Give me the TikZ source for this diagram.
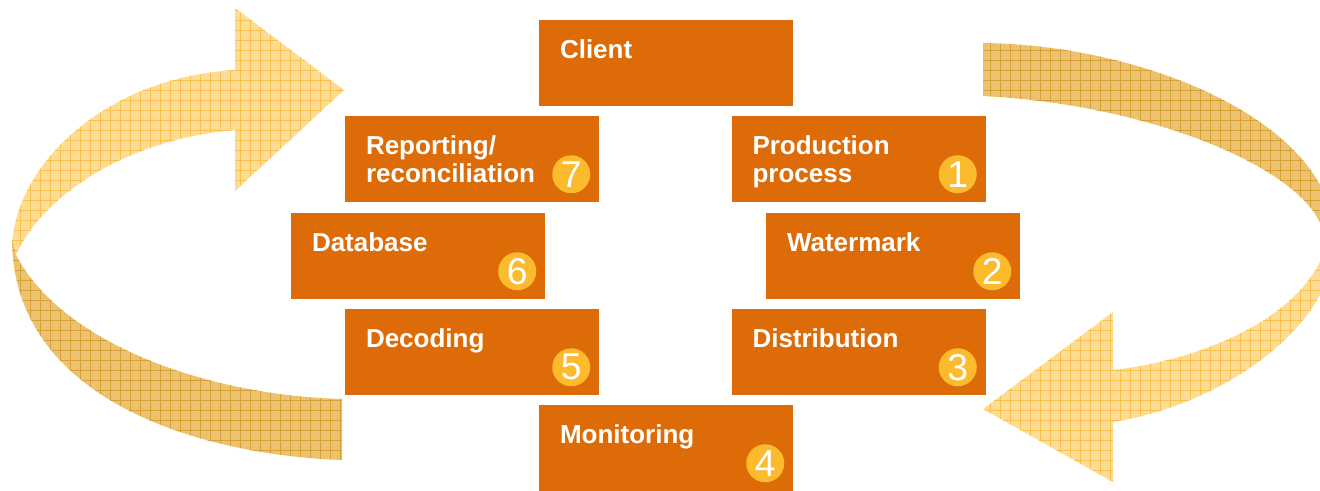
\documentclass[tikz,border=0pt]{standalone}
\usepackage{fontspec}
\setmainfont{Liberation Sans}
\definecolor{boxorange}{RGB}{221,108,8}
\definecolor{numgold}{RGB}{252,186,45}
\definecolor{ribbonlight}{RGB}{253,221,150}
\definecolor{ribbonlightline}{RGB}{249,194,80}
\definecolor{ribbondark}{RGB}{236,194,110}
\definecolor{ribbondarkline}{RGB}{214,162,56}
% square hatching used to texture the ribbons
\newcommand\ribbongrid[1]{%
  \foreach \g in {0,10,...,1320}{\draw[#1] (\g,0) -- (\g,490);}%
  \foreach \g in {0,10,...,490}{\draw[#1] (0,\g) -- (1320,\g);}}
\begin{document}
\begin{tikzpicture}[x=0.75pt,y=-0.75pt,
  stepbox/.style={fill=boxorange, draw=none, minimum width=190.5pt,
    minimum height=64.5pt, inner sep=0pt},
  lbl/.style={text=white, font=\bfseries\fontsize{19.5}{21}\selectfont,
    inner sep=0pt, anchor=base west, align=left},
  numc/.style={circle, fill=numgold, minimum size=28.5pt, inner sep=0pt,
    text=white, font=\fontsize{28}{28}\selectfont},
  gridlight/.style={draw=ribbonlightline, line width=0.45pt},
  griddark/.style={draw=ribbondarkline, line width=0.45pt}]
\useasboundingbox (0,0) rectangle (1320,490);
\clip (0,0) rectangle (1320,490);

% ---- left return arrow: light upper half with head
\begin{scope}
  \clip (235,8) -- (344,90) -- (235,191) -- (235,130)
        .. controls (120,140) and (40,200) .. (16,255)
        -- (12,250) .. controls (12,170) and (100,78) .. (235,70) -- cycle;
  \fill[ribbonlight] (0,0) rectangle (1320,490);
  \ribbongrid{gridlight}
\end{scope}
% ---- left return arrow: dark lower half
\begin{scope}
  \clip (12,238) .. controls (12,400) and (200,455) .. (342,460)
        -- (342,399) .. controls (200,395) and (60,340) .. (16,255) -- cycle;
  \fill[ribbondark] (0,0) rectangle (1320,490);
  \ribbongrid{griddark}
\end{scope}

% ---- right arrow: dark upper half
\begin{scope}
  \clip (983,43) .. controls (1150,45) and (1335,125) .. (1335,240)
        -- (1325,240) .. controls (1320,175) and (1160,105) .. (983,96) -- cycle;
  \fill[ribbondark] (0,0) rectangle (1320,490);
  \ribbongrid{griddark}
\end{scope}
% ---- right arrow: light lower half with head
\begin{scope}
  \clip (1113,312) -- (983,409) -- (1113,482) -- (1113,422)
        .. controls (1220,405) and (1330,330) .. (1335,245)
        -- (1325,250) .. controls (1300,320) and (1200,360) .. (1113,370) -- cycle;
  \fill[ribbonlight] (0,0) rectangle (1320,490);
  \ribbongrid{gridlight}
\end{scope}

% ---- process steps
\node[stepbox] (client) at (666,63) {};
\node[stepbox] (prod)   at (858.5,159) {};
\node[stepbox] (report) at (472,159) {};
\node[stepbox] (dbase)  at (418,256) {};
\node[stepbox] (water)  at (893,256) {};
\node[stepbox] (decode) at (472,352) {};
\node[stepbox] (distr)  at (858.5,352) {};
\node[stepbox] (monit)  at (666,448) {};

% single-line labels sit on the first baseline, two-line ones on the second
\node[lbl] (clientT) at ([xshift=15.75pt,yshift=-29.25pt]client.north west) {Client};
\node[lbl] (prodT)   at ([xshift=15.75pt,yshift=-50.25pt]prod.north west) {Production\\process};
\node[lbl] (reportT) at ([xshift=15.75pt,yshift=-50.25pt]report.north west) {Reporting/\\reconciliation};
\node[lbl] (dbaseT)  at ([xshift=15.75pt,yshift=-29.25pt]dbase.north west) {Database};
\node[lbl] (waterT)  at ([xshift=15.75pt,yshift=-29.25pt]water.north west) {Watermark};
\node[lbl] (decodeT) at ([xshift=15.75pt,yshift=-29.25pt]decode.north west) {Decoding};
\node[lbl] (distrT)  at ([xshift=15.75pt,yshift=-29.25pt]distr.north west) {Distribution};
\node[lbl] (monitT)  at ([xshift=15.75pt,yshift=-29.25pt]monit.north west) {Monitoring};

% ---- step numbers
\node[numc] (n1) at ([xshift=-21pt,yshift=21pt]prod.south east) {1};
\node[numc] (n2) at ([xshift=-21pt,yshift=21pt]water.south east) {2};
\node[numc] (n3) at ([xshift=-21pt,yshift=21pt]distr.south east) {3};
\node[numc] (n4) at ([xshift=-21pt,yshift=21pt]monit.south east) {4};
\node[numc] (n5) at ([xshift=-21pt,yshift=21pt]decode.south east) {5};
\node[numc] (n6) at ([xshift=-21pt,yshift=21pt]dbase.south east) {6};
\node[numc] (n7) at ([xshift=-21pt,yshift=21pt]report.south east) {7};
\end{tikzpicture}
\end{document}
